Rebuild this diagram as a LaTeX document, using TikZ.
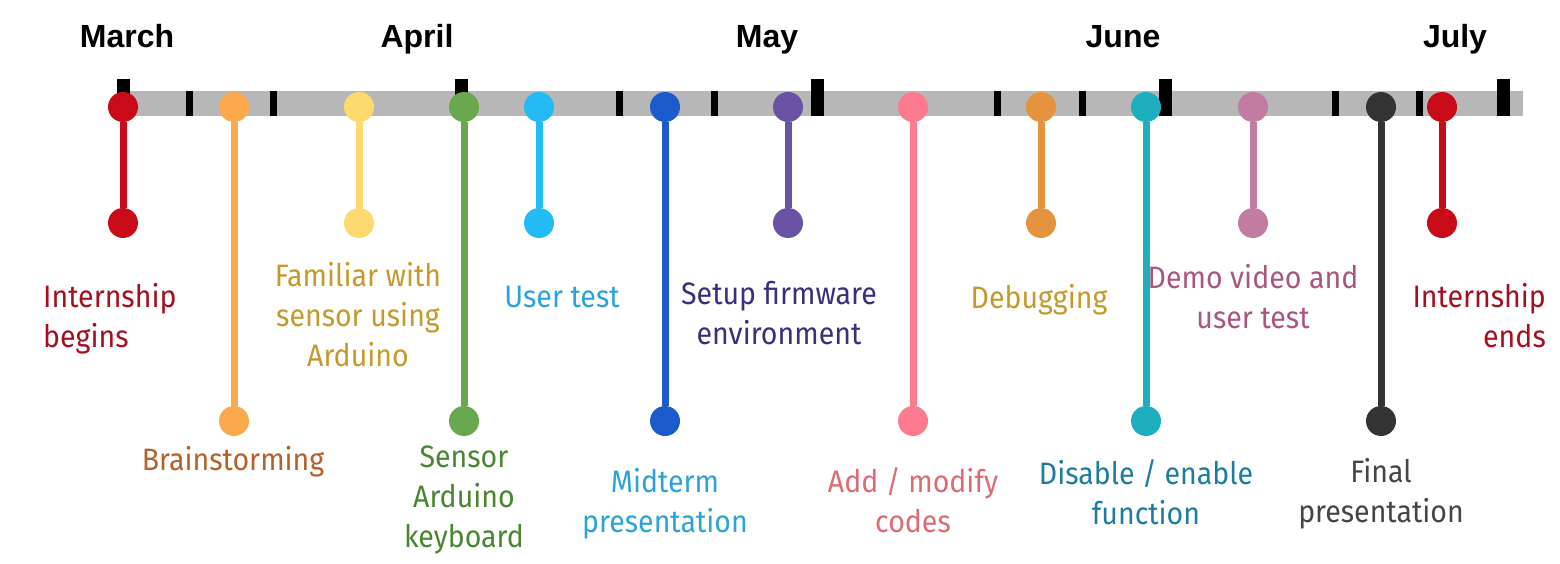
\documentclass[tikz,border=0pt]{standalone}
\usepackage{fontspec}
\setmainfont{Fira Sans}[FakeStretch=0.92]
\newfontfamily\monthfont{Liberation Sans}
\usepackage{xcolor}
\usetikzlibrary{positioning}
\definecolor{barGray}{HTML}{B7B7B7}
\definecolor{cRed}{HTML}{C90A18}
\definecolor{cRedTxt}{HTML}{A3101F}
\definecolor{cOrange}{HTML}{FBA94C}
\definecolor{cOrangeTxt}{HTML}{B5612A}
\definecolor{cYellow}{HTML}{FDD96F}
\definecolor{cGoldTxt}{HTML}{C49A2C}
\definecolor{cGreen}{HTML}{6AA84F}
\definecolor{cGreenTxt}{HTML}{4A8631}
\definecolor{cSky}{HTML}{22BBF6}
\definecolor{cSkyTxt}{HTML}{2BA3D9}
\definecolor{cBlue}{HTML}{1B5BCB}
\definecolor{cPurple}{HTML}{6A52A5}
\definecolor{cIndigo}{HTML}{3D2D7E}
\definecolor{cPink}{HTML}{FE7A8F}
\definecolor{cPinkTxt}{HTML}{DE6B74}
\definecolor{cAmber}{HTML}{E69340}
\definecolor{cTeal}{HTML}{1EAFBF}
\definecolor{cTealTxt}{HTML}{1E7CA2}
\definecolor{cMauve}{HTML}{C27BA1}
\definecolor{cMauveTxt}{HTML}{A9577F}
\definecolor{cDark}{HTML}{333333}
\definecolor{cDarkTxt}{HTML}{454545}

\begin{document}
\begin{tikzpicture}[x=1pt,y=-1pt,
  evdot/.style={circle,minimum size=30pt,inner sep=0pt},
  evline/.style={line width=7pt},
  month/.style={font=\monthfont\bfseries\fontsize{32}{38}\selectfont,anchor=base,inner sep=0pt},
  lbl/.style={font=\fontsize{31}{40}\selectfont,align=center,anchor=north,inner sep=0pt}]
\useasboundingbox (0,0) rectangle (1560,564);
% months
\node[month] (mar) at (127,48) {March};
\node[month] (apr) at (417,48) {April};
\node[month] (may) at (767,48) {May};
\node[month] (jun) at (1123,48) {June};
\node[month] (jul) at (1455,48) {July};
% time bar and ticks
\fill[barGray] (117,91) rectangle (1523,116);
\fill (117,79) rectangle (130,116);
\fill (455,79) rectangle (468,116);
\fill (811,79) rectangle (824,116);
\fill (1159,79) rectangle (1172,116);
\fill (1497,79) rectangle (1510,116);
\fill (186,91) rectangle (193,116);
\fill (270,91) rectangle (277,116);
\fill (616,91) rectangle (623,116);
\fill (711,91) rectangle (718,116);
\fill (994,91) rectangle (1001,116);
\fill (1079,91) rectangle (1086,116);
\fill (1332,91) rectangle (1339,116);
\fill (1416,91) rectangle (1423,116);
% events
\node[evdot,fill=cRed] (begin) at (123,107) {};
\node[evdot,fill=cRed] (beginend) at (123,223) {};
\draw[evline,cRed] (begin) -- (beginend);
\node[lbl,cRedTxt,align=left,anchor=north west] (beginlbl) at (43,283) {Internship\\begins};

\node[evdot,fill=cOrange] (brain) at (234,107) {};
\node[evdot,fill=cOrange] (brainend) at (234,421) {};
\draw[evline,cOrange] (brain) -- (brainend);
\node[lbl,cOrangeTxt] (brainlbl) at (233,446) {Brainstorming};

\node[evdot,fill=cYellow] (famil) at (359,107) {};
\node[evdot,fill=cYellow] (familend) at (359,223) {};
\draw[evline,cYellow] (famil) -- (familend);
\node[lbl,cGoldTxt] (famillbl) at (358,262) {Familiar with\\sensor using\\Arduino};

\node[evdot,fill=cGreen] (sensor) at (464,107) {};
\node[evdot,fill=cGreen] (sensorend) at (464,421) {};
\draw[evline,cGreen] (sensor) -- (sensorend);
\node[lbl,cGreenTxt] (sensorlbl) at (464,446) {Sensor\\Arduino\\keyboard};

\node[evdot,fill=cSky] (user) at (539,107) {};
\node[evdot,fill=cSky] (userend) at (539,223) {};
\draw[evline,cSky] (user) -- (userend);
\node[lbl,cSkyTxt] (userlbl) at (562,286) {User test};

\node[evdot,fill=cBlue] (mid) at (665,107) {};
\node[evdot,fill=cBlue] (midend) at (665,421) {};
\draw[evline,cBlue] (mid) -- (midend);
\node[lbl,cSkyTxt] (midlbl) at (665,468) {Midterm\\presentation};

\node[evdot,fill=cPurple] (setup) at (788,107) {};
\node[evdot,fill=cPurple] (setupend) at (788,223) {};
\draw[evline,cPurple] (setup) -- (setupend);
\node[lbl,cIndigo] (setuplbl) at (779,281) {Setup firmware\\environment};

\node[evdot,fill=cPink] (modify) at (913,107) {};
\node[evdot,fill=cPink] (modifyend) at (913,421) {};
\draw[evline,cPink] (modify) -- (modifyend);
\node[lbl,cPinkTxt] (modifylbl) at (913,467) {Add / modify\\codes};

\node[evdot,fill=cAmber] (debug) at (1041,107) {};
\node[evdot,fill=cAmber] (debugend) at (1041,223) {};
\draw[evline,cAmber] (debug) -- (debugend);
\node[lbl,cGoldTxt] (debuglbl) at (1039,284) {Debugging};

\node[evdot,fill=cTeal] (toggle) at (1146,107) {};
\node[evdot,fill=cTeal] (toggleend) at (1146,421) {};
\draw[evline,cTeal] (toggle) -- (toggleend);
\node[lbl,cTealTxt] (togglelbl) at (1146,459) {Disable / enable\\function};

\node[evdot,fill=cMauve] (demo) at (1253,107) {};
\node[evdot,fill=cMauve] (demoend) at (1253,223) {};
\draw[evline,cMauve] (demo) -- (demoend);
\node[lbl,cMauveTxt] (demolbl) at (1253,264) {Demo video and\\user test};

\node[evdot,fill=cDark] (final) at (1381,107) {};
\node[evdot,fill=cDark] (finalend) at (1381,421) {};
\draw[evline,cDark] (final) -- (finalend);
\node[lbl,cDarkTxt] (finallbl) at (1381,458) {Final\\presentation};

\node[evdot,fill=cRed] (ends) at (1442,107) {};
\node[evdot,fill=cRed] (endsend) at (1442,223) {};
\draw[evline,cRed] (ends) -- (endsend);
\node[lbl,cRedTxt,align=right,anchor=north east] (endslbl) at (1546,283) {Internship\\ends};
\end{tikzpicture}
\end{document}
